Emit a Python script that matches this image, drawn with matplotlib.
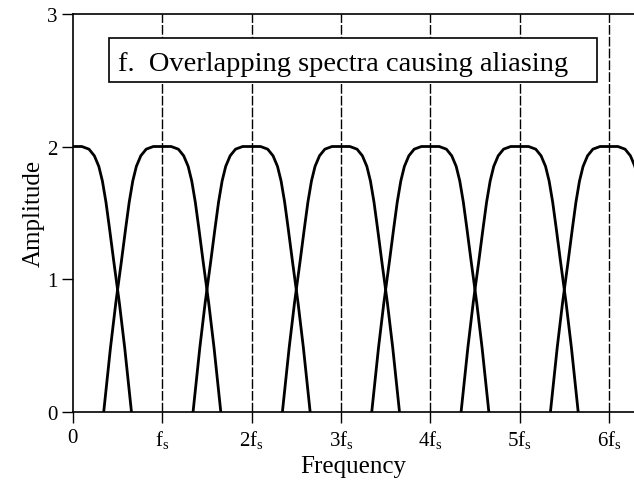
import matplotlib.pyplot as plt
from matplotlib.patches import Rectangle
import numpy as np

plt.rcParams['font.family'] = ['Liberation Serif', 'DejaVu Serif']
plt.rcParams['mathtext.fontset'] = 'custom'
plt.rcParams['mathtext.rm'] = 'Liberation Serif'
plt.rcParams['mathtext.it'] = 'Liberation Serif:italic'

# one spectral copy: amplitude vs |offset| from its centre (in units of fs)
offset = np.array([0.0, 0.10, 0.18, 0.24, 0.29, 0.33, 0.37, 0.41, 0.46, 0.52, 0.58, 0.655])
amp = np.array([2.0, 2.0, 1.98, 1.93, 1.85, 1.74, 1.58, 1.38, 1.12, 0.82, 0.48, 0.0])
centers = [0, 1, 2, 3, 4, 5, 6, 7]

tick_pos = [0, 1, 2, 3, 4, 5, 6]
tick_labels = ['0', r'f$_\mathrm{s}$', r'2f$_\mathrm{s}$', r'3f$_\mathrm{s}$',
               r'4f$_\mathrm{s}$', r'5f$_\mathrm{s}$', r'6f$_\mathrm{s}$']

fig = plt.figure(figsize=(6.34, 4.81), dpi=100)
ax = fig.add_axes([0.115, 0.142, 0.885, 0.827])

sx = np.concatenate([-offset[::-1], offset[1:]])
sy = np.concatenate([amp[::-1], amp[1:]])
for c in centers:
    ax.plot(sx + c, sy, color='black', lw=2.0, solid_joinstyle='round', zorder=3)

for c in tick_pos[1:]:
    ax.axvline(c, color='black', lw=1.0, dashes=(7, 1.5), zorder=1)

ax.set_xlim(0, 6.28)
ax.set_ylim(0, 3)
ax.set_xticks(tick_pos)
ax.set_xticklabels(tick_labels)
ax.set_yticks([0, 1, 2, 3])
ax.tick_params(direction='out', length=8, width=1.0, labelsize=15, pad=3)
ax.tick_params(axis='x', pad=4)
ax.spines['right'].set_visible(False)
for s in ['left', 'top', 'bottom']:
    ax.spines[s].set_linewidth(1.2)

ax.set_xlabel('Frequency', fontsize=18, labelpad=3)
ax.set_ylabel('Amplitude', fontsize=18, labelpad=2)

ax.add_patch(Rectangle((0.403, 2.49), 5.465, 0.326, facecolor='white',
                       edgecolor='black', lw=1.2, zorder=4))
ax.text(0.50, 2.625, 'f.  Overlapping spectra causing aliasing', fontsize=20.5,
        ha='left', va='center', zorder=5)

plt.savefig('out.png', dpi=100)
